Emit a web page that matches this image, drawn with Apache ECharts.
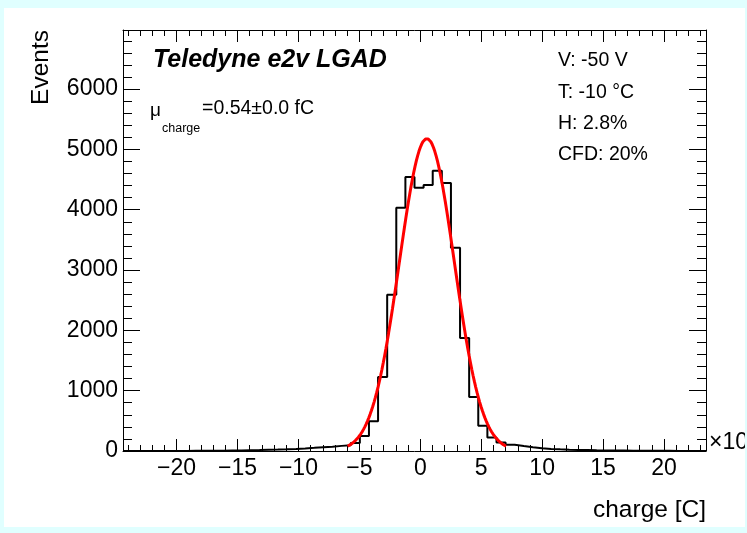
<!DOCTYPE html>
<html>
<head>
<meta charset="utf-8">
<script src="https://cdn.jsdelivr.net/npm/echarts@6/dist/echarts.min.js"></script>
<style>
  html, body { margin: 0; padding: 0; background: #ffffff; }
  #chart { width: 747px; height: 533px; }
</style>
</head>
<body>
<div id="chart"></div>
<script>
// Charge histogram (charge in units of 1e-15 C), 64 equal bins
const histMin = -24.4;
const histMax = 23.45;
const binCounts = [
  0, 0, 0, 1, 1, 2, 2, 3, 4, 5,
  5, 7, 9, 12, 15, 19, 23, 28, 34, 42,
  52, 63, 70, 85, 95, 133, 249, 492, 1227, 2592,
  4034, 4542, 4366, 4409, 4648, 4442, 3371, 1873, 895, 420,
  225, 139, 105, 83, 62, 46, 34, 27, 22, 18,
  15, 12, 10, 8, 7, 6, 5, 4, 3, 3,
  2, 2, 1, 1
];

// Gaussian fit result
const fitMean = 0.54;
const fitSigma = 2.25;
const fitAmplitude = 5180;
const fitRange = [-5.96, 7.04];

// Axis ticks
const xMajorTicks = [-20, -15, -10, -5, 0, 5, 10, 15, 20];
const yMajorTicks = [0, 1000, 2000, 3000, 4000, 5000, 6000];
const yMax = 6980;

// Annotations
const titleText = 'Teledyne e2v LGAD';
const infoLines = ['V: -50 V', 'T: -10 \u00B0C', 'H: 2.8%', 'CFD: 20%'];

const FONT = 'Liberation Sans, Arial, Helvetica, sans-serif';

// Bin edges -> step outline points
const nBins = binCounts.length;
const binWidth = (histMax - histMin) / nBins;
const histPoints = binCounts.map((c, i) => [histMin + i * binWidth, c]);
histPoints.push([histMax, binCounts[nBins - 1]]);

// Fit function sampled across its range
const fitPoints = [];
const nFit = 120;
for (let i = 0; i <= nFit; i++) {
  const x = fitRange[0] + (fitRange[1] - fitRange[0]) * i / nFit;
  const z = (x - fitMean) / fitSigma;
  fitPoints.push([x, fitAmplitude * Math.exp(-0.5 * z * z)]);
}

// Minor tick positions
const xMinorTicks = [];
for (let v = Math.ceil(histMin); v <= histMax; v++) if (v % 5 !== 0) xMinorTicks.push(v);
const yMinorTicks = [];
for (let v = 200; v < yMax; v += 200) if (v % 1000 !== 0) yMinorTicks.push(v);

const black = { color: '#000', width: 1 };

function xAxisDef(position, ticks, len, withLine, withLabels) {
  return {
    type: 'value', min: histMin, max: histMax, position: position,
    splitLine: { show: false },
    axisLine: { show: withLine, onZero: false, lineStyle: black },
    axisTick: { show: true, inside: true, length: len, customValues: ticks, lineStyle: black },
    axisLabel: withLabels ? {
      show: true, customValues: ticks, margin: 6,
      color: '#000', fontFamily: FONT, fontSize: 23,
      formatter: v => (v < 0 ? '\u2212' + (-v) : String(v))
    } : { show: false }
  };
}
function yAxisDef(position, ticks, len, withLine, withLabels) {
  return {
    type: 'value', min: 0, max: yMax, position: position,
    splitLine: { show: false },
    axisLine: { show: withLine, onZero: false, lineStyle: black },
    axisTick: { show: true, inside: true, length: len, customValues: ticks, lineStyle: black },
    axisLabel: withLabels ? {
      show: true, customValues: ticks, margin: 5,
      color: '#000', fontFamily: FONT, fontSize: 23,
      formatter: v => String(v)
    } : { show: false }
  };
}

const chart = echarts.init(document.getElementById('chart'), null, { renderer: 'canvas' });

const edge = '#e0ffff';
chart.setOption({
  animation: false,
  backgroundColor: '#ffffff',
  grid: { left: 123, top: 30, width: 583, height: 421, containLabel: false },
  xAxis: [
    xAxisDef('bottom', xMajorTicks, 12, true, true),
    xAxisDef('bottom', xMinorTicks, 6, false, false),
    xAxisDef('top', xMajorTicks, 12, true, false),
    xAxisDef('top', xMinorTicks, 6, false, false)
  ],
  yAxis: [
    yAxisDef('left', yMajorTicks, 17, true, true),
    yAxisDef('left', yMinorTicks, 9, false, false),
    yAxisDef('right', yMajorTicks, 17, true, false),
    yAxisDef('right', yMinorTicks, 9, false, false)
  ],
  series: [
    {
      name: 'charge', type: 'line', xAxisIndex: 0, yAxisIndex: 0,
      step: 'end', data: histPoints, symbol: 'none',
      lineStyle: { color: '#000', width: 2 }, z: 3
    },
    {
      name: 'fit', type: 'line', xAxisIndex: 0, yAxisIndex: 0,
      data: fitPoints, symbol: 'none', smooth: false,
      lineStyle: { color: '#ff0000', width: 3 }, z: 4
    }
  ],
  graphic: [
    { type: 'text', z: 50, style: { text: titleText, x: 153, y: 60, fontFamily: FONT, fontSize: 25,
      fontWeight: 'bold', fontStyle: 'italic', fill: '#000', textVerticalAlign: 'middle' } },
    { type: 'text', z: 50, style: { text: '\u03BC', x: 150, y: 111, fontFamily: FONT, fontSize: 19,
      fill: '#000', textVerticalAlign: 'middle' } },
    { type: 'text', z: 50, style: { text: 'charge', x: 162, y: 129, fontFamily: FONT, fontSize: 12.5,
      fill: '#000', textVerticalAlign: 'middle' } },
    { type: 'text', z: 50, style: { text: '=0.54\u00B10.0 fC', x: 202, y: 109, fontFamily: FONT, fontSize: 19.5,
      fill: '#000', textVerticalAlign: 'middle' } },
    ...infoLines.map((t, i) => ({
      type: 'text', z: 50, style: { text: t, x: 558, y: 61 + i * 31.2, fontFamily: FONT, fontSize: 19.5,
        fill: '#000', textVerticalAlign: 'middle' }
    })),
    { type: 'text', z: 50, rotation: Math.PI / 2, x: 41, y: 30,
      style: { text: 'Events', x: 0, y: 0, fontFamily: FONT, fontSize: 24.5, fill: '#000',
        textAlign: 'right', textVerticalAlign: 'middle' } },
    { type: 'text', z: 50, style: { text: 'charge [C]', x: 706, y: 510, fontFamily: FONT, fontSize: 24.5,
      fill: '#000', textAlign: 'right', textVerticalAlign: 'middle' } },
    { type: 'text', z: 50, style: { text: '\u00D710', x: 709, y: 443, fontFamily: FONT, fontSize: 23,
      fill: '#000', textVerticalAlign: 'middle' } },
    // canvas border
    { type: 'rect', z: 100, shape: { x: 0, y: 0, width: 747, height: 8 }, style: { fill: edge } },
    { type: 'rect', z: 100, shape: { x: 0, y: 527, width: 747, height: 6 }, style: { fill: edge } },
    { type: 'rect', z: 100, shape: { x: 0, y: 0, width: 4, height: 533 }, style: { fill: edge } },
    { type: 'rect', z: 100, shape: { x: 745, y: 0, width: 2, height: 533 }, style: { fill: edge } }
  ]
});
</script>
</body>
</html>
